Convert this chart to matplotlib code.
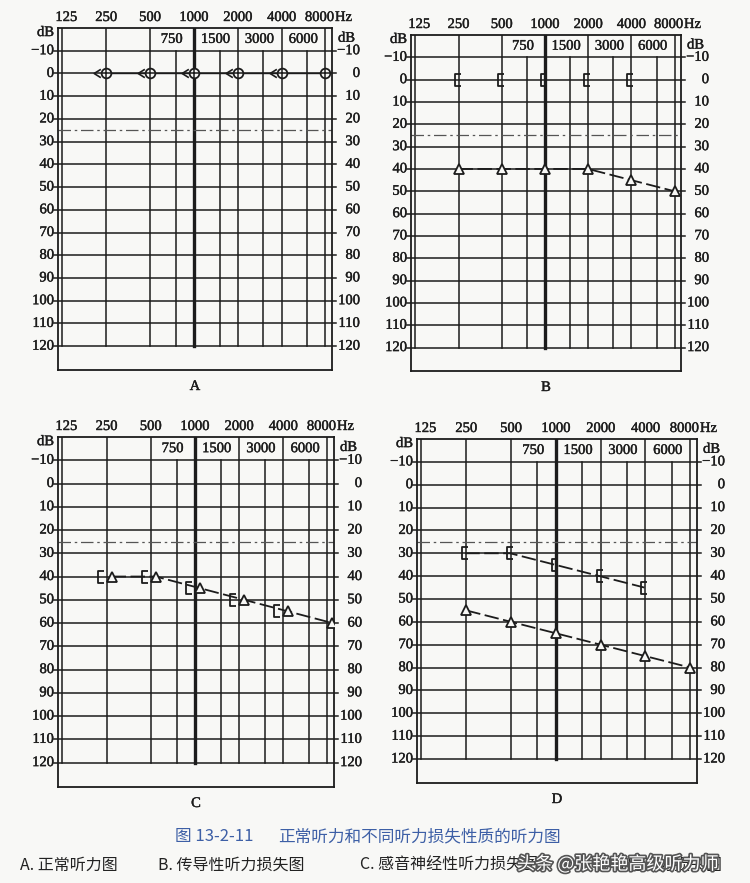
# LIBRARIES

import numpy as np
import matplotlib.pyplot as plt
from matplotlib.path import Path
from matplotlib.transforms import offset_copy
import matplotlib.patheffects as pe


# DATA

freqs = [125, 250, 500, 1000, 2000, 4000, 8000]
half_freqs = [750, 1500, 3000, 6000]
db_levels = [-10, 0, 10, 20, 30, 40, 50, 60, 70, 80, 90, 100, 110, 120]
normal_limit = 25

# A - normal
a_bone_freq = [250, 500, 1000, 2000, 4000]
a_bone_db = [0, 0, 0, 0, 0]
a_air_freq = [250, 500, 1000, 2000, 4000, 8000]
a_air_db = [0, 0, 0, 0, 0, 0]

# B - conductive
b_bone_freq = [250, 500, 1000, 2000, 4000]
b_bone_db = [0, 0, 0, 0, 0]
b_air_freq = [250, 500, 1000, 2000, 4000, 8000]
b_air_db = [40, 40, 40, 40, 45, 50]

# C - sensorineural
c_bone_freq = [250, 500, 1000, 2000, 4000]
c_bone_db = [40, 40, 45, 50, 55]
c_air_freq = [250, 500, 1000, 2000, 4000, 8000]
c_air_db = [40, 40, 45, 50, 55, 60]

# D - mixed
d_bone_freq = [250, 500, 1000, 2000, 4000]
d_bone_db = [30, 30, 35, 40, 45]
d_air_freq = [250, 500, 1000, 2000, 4000, 8000]
d_air_db = [55, 60, 65, 70, 75, 80]

panel_labels = ["A", "B", "C", "D"]
fig_number = "图 13-2-11"
fig_title = "正常听力和不同听力损失性质的听力图"
caption_parts = ["A. 正常听力图", "B. 传导性听力损失图", "C. 感音神经性听力损失图", "D. 混合性听力损失图"]
watermark = "头条 @张艳艳高级听力师"


# SETUP

W, H = 750, 883
BG = "#f8f8f6"
INK = "#1c1c1c"
SERIF = "Liberation Serif"
CJK = ["Noto Sans CJK SC", "DejaVu Sans"]
FS = 10.5
heavy = [pe.withStroke(linewidth=0.3, foreground=INK)]

fig = plt.figure(figsize=(W / 100, H / 100), dpi=100, facecolor=BG)


def octave(f):
    return np.log2(np.array(f, dtype=float) / 125)


def shift(ax, dx, dy=0):
    return offset_copy(ax.transData, fig=fig, x=dx, y=dy, units="dots")


bracket = Path([(0.5, 1), (-0.5, 1), (-0.5, -1), (0.5, -1)],
               [Path.MOVETO, Path.LINETO, Path.LINETO, Path.LINETO])
less_than = Path([(0.8, 1), (-0.8, 0), (0.8, -1)],
                 [Path.MOVETO, Path.LINETO, Path.LINETO])

XMIN, XMAX = -0.1, 6.15
YTOP, YBOT = -20, 130.5


def label(ax, x, y, s, dx=0, dy=0, **kw):
    ax.text(x, y, s, transform=shift(ax, dx, dy), fontsize=FS, family=SERIF,
            color=INK, path_effects=heavy, **kw)


def draw_panel(left, right, top, bottom, name):
    ax = fig.add_axes([left / W, 1 - bottom / H, (right - left) / W, (bottom - top) / H])
    ax.set_xlim(XMIN, XMAX)
    ax.set_ylim(YBOT, YTOP)
    ax.set_facecolor(BG)
    ax.set_xticks([])
    ax.set_yticks([])
    for s in ax.spines.values():
        s.set_linewidth(1.3)
        s.set_color(INK)

    # grid
    for f in freqs:
        x = octave(f)
        ax.plot([x, x], [YTOP, 120], color=INK, lw=2.4 if f == 1000 else 1.1, zorder=1)
    for f in half_freqs:
        x = octave(f)
        ax.plot([x, x], [-10, 120], color=INK, lw=1.1, zorder=1)
    for d in db_levels:
        ax.plot([XMIN - 0.1, XMAX + 0.1], [d, d], color=INK, lw=1.1, zorder=1, clip_on=False)

    ax.plot([XMIN, XMAX], [normal_limit, normal_limit], color="#555555", lw=0.9,
            ls=(0, (10, 3, 2, 3)), zorder=2)

    # labels
    for f in freqs:
        dx = -6 if f == 8000 else (4 if f == 125 else 0)
        label(ax, octave(f), YTOP, str(f), dx, 4, ha="center", va="bottom")
    for f in half_freqs:
        label(ax, octave(f), -15, str(f), -4, 0, ha="center", va="center")
    label(ax, XMAX, YTOP, "Hz", 3, 4, ha="left", va="bottom")
    label(ax, XMIN, -18, "dB", -4, 0, ha="right", va="center")
    label(ax, XMAX, -15.5, "dB", 6, 0, ha="left", va="center")
    for d in db_levels:
        t = str(d).replace("-", "\u2212")
        label(ax, XMIN, d, t, -4, 0, ha="right", va="center")
        label(ax, XMAX, d, t, 28, 0, ha="right", va="center")
    ax.text(0.5, 0, name, transform=offset_copy(ax.transAxes, fig=fig, x=0, y=-10, units="dots"),
            ha="center", va="top", fontsize=FS, family=SERIF, color=INK, path_effects=heavy)
    return ax


ax_a = draw_panel(58, 332, 28, 370, panel_labels[0])
ax_b = draw_panel(411, 681, 35, 371, panel_labels[1])
ax_c = draw_panel(58, 334, 437, 787, panel_labels[2])
ax_d = draw_panel(417, 697, 439, 783, panel_labels[3])

dash = (0, (8, 2.5))

# A
ax_a.plot(octave(a_air_freq), a_air_db, color=INK, lw=1.0, zorder=3)
ax_a.plot(octave(a_air_freq), a_air_db, ls="none", marker="o", ms=7, mfc=BG, mec=INK, mew=1.3, zorder=4)
ax_a.plot(octave(a_air_freq), a_air_db, ls="none", marker="+", ms=7, mec=INK, mew=1.1, zorder=5)
ax_a.plot(octave(a_bone_freq), a_bone_db, ls="none", marker=less_than, ms=6, mfc="none", mec=INK,
          mew=1.2, transform=shift(ax_a, -9), zorder=4)

# B
ax_b.plot(octave(b_air_freq), b_air_db, color=INK, lw=1.3, ls=dash, marker="^", ms=7,
          mfc=BG, mec=INK, mew=1.3, zorder=4)
ax_b.plot(octave(b_bone_freq), b_bone_db, ls="none", marker=bracket, ms=8, mfc="none", mec=INK,
          mew=1.3, transform=shift(ax_b, -1), zorder=4)

# C
ax_c.plot(octave(c_air_freq), c_air_db, color=INK, lw=1.3, ls=dash, marker="^", ms=7,
          mfc=BG, mec=INK, mew=1.3, transform=shift(ax_c, 5), zorder=4)
ax_c.plot(octave(c_bone_freq), c_bone_db, ls="none", marker=bracket, ms=9, mfc="none", mec=INK,
          mew=1.3, transform=shift(ax_c, -6), zorder=4)

# D
ax_d.plot(octave(d_air_freq), d_air_db, color=INK, lw=1.3, ls=dash, marker="^", ms=7,
          mfc=BG, mec=INK, mew=1.3, zorder=4)
ax_d.plot(octave(d_bone_freq), d_bone_db, color=INK, lw=1.3, ls=dash, marker=bracket, ms=8,
          mfc="none", mec=INK, mew=1.3, transform=shift(ax_d, -1), zorder=4)


# CAPTION

blue = "#3d5fa6"
fig.text(175 / W, 1 - 837 / H, fig_number, ha="left", va="center", fontsize=12,
         family=CJK, color=blue)
fig.text(278 / W, 1 - 837 / H, fig_title, ha="left", va="center", fontsize=12,
         family=CJK, color=blue)
for part, x in zip(caption_parts, [20, 158, 360, 575]):
    fig.text(x / W, 1 - 865 / H, part, ha="left", va="center", fontsize=11.5,
             family=CJK, color="#222222")
fig.text(517 / W, 1 - 864 / H, watermark, ha="left", va="center", fontsize=13,
         family=CJK, color="white",
         path_effects=[pe.withStroke(linewidth=2.4, foreground="#555555")])

fig.savefig("out.png", dpi=100, facecolor=BG)
